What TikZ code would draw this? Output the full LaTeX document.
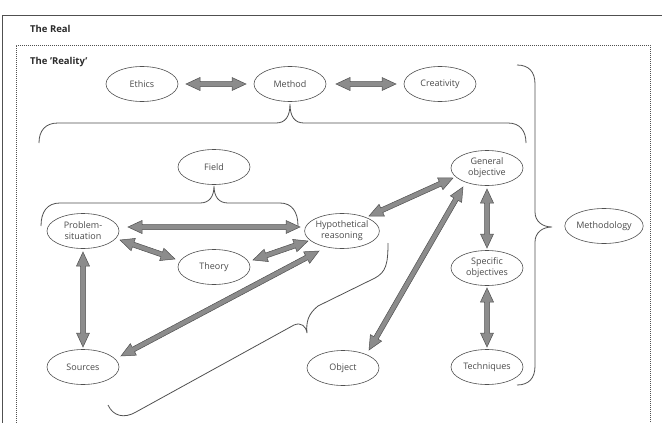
\documentclass[tikz,border=0pt]{standalone}
\usepackage{fontspec}
\setmainfont{Open Sans}
\usetikzlibrary{calc,shapes.geometric}
\definecolor{edge}{HTML}{505050}
\definecolor{arrfill}{HTML}{8C8C8C}
\definecolor{txt}{HTML}{4A4A4A}
\definecolor{head}{HTML}{2A2A2A}
\tikzset{
  ell/.style={ellipse, draw=edge, line width=0.6pt, minimum width=72pt, minimum height=35pt,
    inner sep=0pt, text=txt, align=center, font=\fontsize{9}{11}\selectfont},
  fatarr/.style={fill=arrfill, draw=edge, line width=0.5pt, line join=miter},
  bracestyle/.style={draw=edge, line width=0.8pt},
  titlelab/.style={anchor=west, inner sep=0pt, text=head, font=\bfseries\fontsize{9.5}{11}\selectfont}
}
\newcommand\fatarrow[2]{%
  \path[fatarr] let \p1=(#1), \p2=(#2), \n1={atan2(\y2-\y1,\x2-\x1)},
    \n2={veclen(\x2-\x1,\y2-\y1)}, \n3={\n2-14pt} in
    [shift={(\p1)}, rotate=\n1]
    (0pt,0pt) -- (14pt,6.5pt) -- (14pt,2.5pt) -- ({\n3},2.5pt) -- ({\n3},6.5pt)
    -- ({\n2},0pt) -- ({\n3},-6.5pt) -- ({\n3},-2.5pt) -- (14pt,-2.5pt) -- (14pt,-6.5pt) -- cycle;}
\begin{document}
\begin{tikzpicture}[x=1pt,y=-1pt]
\useasboundingbox (0,0) rectangle (662,423);
% frames
\draw[edge, line width=0.9pt] (2.5,423) -- (2.5,15) -- (662,15);
\draw[edge, line width=0.6pt, dash pattern=on 1.2pt off 0.8pt] (16,423) -- (16,45) -- (650,45) -- (650,423);
\node[titlelab] (real) at (30,29) {The Real};
\node[titlelab] (reality) at (30,62) {The 'Reality'};
% nodes
\node[ell] (ethics) at (142,84) {Ethics};
\node[ell] (method) at (290,84) {Method};
\node[ell] (creat) at (440,84) {Creativity};
\node[ell] (field) at (214,167) {Field};
\node[ell] (ps) at (83,231) {Problem-\\situation};
\node[ell] (hr) at (342,231) {Hypothetical\\reasoning};
\node[ell] (theory) at (214,267) {Theory};
\node[ell] (go) at (487,168) {General\\objective};
\node[ell] (so) at (487,268) {Specific\\objectives};
\node[ell] (meth) at (604,226) {Methodology};
\node[ell] (sources) at (83,367) {Sources};
\node[ell] (object) at (343,368) {Object};
\node[ell] (tech) at (487,367) {Techniques};
% braces
\draw[bracestyle] (39,143) .. controls (39,131) and (45,123) .. (58,123) -- (276,123)
  .. controls (285,123) and (290,117) .. (290,104) .. controls (290,117) and (295,123) .. (304,123)
  -- (508,123) .. controls (520,123) and (526,131) .. (526,143);
\draw[bracestyle] (41,226) .. controls (41,212) and (47,203) .. (60,203) -- (200,203)
  .. controls (209,203) and (214,197) .. (214,186) .. controls (214,197) and (219,203) .. (228,203)
  -- (280,203) .. controls (292,203) and (298,212) .. (298,226);
\draw[bracestyle] (517,65) .. controls (529,65) and (535,72) .. (535,84) -- (535,212)
  .. controls (535,221) and (542,227) .. (552,227) .. controls (542,227) and (535,233) .. (535,242)
  -- (535,366) .. controls (535,378) and (529,385) .. (517,385);
\draw[bracestyle] (108,405) .. controls (113,416) and (124,419) .. (136,412) -- (294,325)
  .. controls (301,322) and (306,326) .. (307,333) .. controls (306,322) and (308,314) .. (318,306)
  -- (375,278) .. controls (386,272) and (388,264) .. (388,243);
% arrows
\fatarrow{$(ethics)+(44,0)$}{$(method)+(-44,0)$}
\fatarrow{$(method)+(46,0)$}{$(creat)+(-44,0)$}
\fatarrow{$(ps)+(45,-4)$}{$(hr)+(-42,-4)$}
\fatarrow{$(ps)+(37,9)$}{$(theory)+(-39,-8)$}
\fatarrow{$(theory)+(39,-7)$}{$(hr)+(-34,10)$}
\fatarrow{$(hr)+(-23,20)$}{$(sources)+(38,-11)$}
\fatarrow{$(ps)+(0,21)$}{$(sources)+(0,-20)$}
\fatarrow{$(hr)+(27,-15)$}{$(go)+(-34,10)$}
\fatarrow{$(object)+(26,-18)$}{$(go)+(-24,19)$}
\fatarrow{$(go)+(0,21)$}{$(so)+(0,-20)$}
\fatarrow{$(so)+(0,20)$}{$(tech)+(0,-20)$}
\end{tikzpicture}
\end{document}
